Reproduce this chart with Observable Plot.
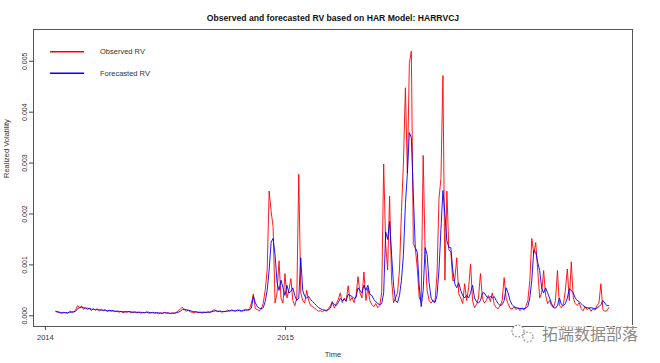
<!DOCTYPE html>
<html><head><meta charset="utf-8">
<script src="https://cdn.jsdelivr.net/npm/d3@7"></script>
<script src="https://cdn.jsdelivr.net/npm/@observablehq/plot@0.6"></script>
<style>
body{margin:0;background:#fff;}
#chart{position:relative;width:660px;height:363px;}
</style>
</head><body><div id="chart"></div>
<script>
// ---- data (RV values in units of 1e-4) ----
const title = "Observed and forecasted RV based on HAR Model: HARRVCJ";
const seriesNames = ["Observed RV", "Forecasted RV"];
const seriesColors = ["#ff0000", "#0000ff"];
const yLabel = "Realized Volatility";
const xLabel = "Time";
const xTickLabels = ["2014", "2015"];
const yTicks = [0, 10, 20, 30, 40, 50];
const startDate = "2014-01-17";
const stepDays = 3;
const watermark = "拓端数据部落";

const observed = [
0.8,0.7,0.6,0.5,0.7,0.6,0.5,0.9,0.8,0.7,
1.2,2.0,1.6,1.9,1.3,1.6,1.2,1.5,1.0,1.4,
1.1,1.4,0.9,1.3,1.0,1.2,0.8,1.1,0.9,1.0,
0.8,0.9,0.7,0.9,0.6,0.8,0.7,0.9,0.6,0.7,
0.8,0.6,0.7,0.5,0.7,0.6,0.8,0.5,0.6,0.7,
0.5,0.6,0.4,0.6,0.5,0.7,0.5,0.6,0.4,0.6,
0.5,0.7,1.0,1.3,1.7,1.2,0.9,1.1,0.8,0.7,
0.6,0.8,0.6,0.7,0.5,0.7,0.6,0.8,0.7,0.9,
1.2,1.0,0.8,0.9,0.7,0.9,0.8,1.1,0.9,1.2,
1.0,0.9,1.2,1.0,0.8,1.1,1.3,1.0,1.2,2.5,
4.3,1.4,1.2,1.0,1.3,2.5,5.0,9.0,24.5,20.5,
17.5,2.5,4.5,10.8,3.5,2.5,8.3,3.5,5.0,7.3,
3.0,2.0,3.5,27.8,4.5,3.0,2.5,5.0,3.0,2.0,
1.8,1.5,1.2,0.9,1.0,0.8,1.1,0.9,1.4,2.0,
2.8,1.5,2.4,3.2,4.5,2.6,3.5,2.8,5.9,3.0,
3.6,2.6,4.0,7.7,4.5,3.5,8.6,3.0,5.5,3.0,
2.2,1.8,2.4,1.6,2.0,4.5,29.8,14.0,9.0,23.5,
7.0,2.6,3.5,4.5,9.0,20.5,30.0,44.8,28.0,49.6,
52.0,14.2,13.3,9.4,3.5,2.8,31.5,12.0,5.0,3.0,
2.5,3.0,2.8,8.0,23.0,27.0,47.2,7.0,24.5,13.0,
12.5,6.9,7.0,11.4,4.3,3.5,2.4,6.3,3.0,5.5,
10.2,3.0,1.6,2.2,3.5,8.3,3.5,2.5,3.0,4.0,
2.8,4.5,2.2,1.6,1.4,2.0,3.0,7.5,3.5,2.4,
1.5,1.3,1.8,1.2,1.6,1.0,1.5,1.1,1.8,3.0,
6.9,15.2,12.2,14.4,9.0,3.5,4.5,8.9,4.0,2.4,
3.0,2.0,1.6,3.0,8.9,2.0,1.6,2.2,5.0,9.2,
3.0,10.6,3.5,2.4,2.0,2.6,1.4,1.0,1.8,1.2,
1.6,0.9,1.4,1.1,2.0,2.5,6.3,1.2,0.9,1.0,1.6
];

const forecast = [
0.9,0.8,0.7,0.6,0.6,0.6,0.6,0.7,0.7,0.8,
0.9,1.4,1.6,1.7,1.6,1.5,1.5,1.4,1.3,1.3,
1.2,1.2,1.2,1.1,1.1,1.1,1.0,1.0,1.0,1.0,
0.9,0.9,0.9,0.8,0.8,0.8,0.8,0.8,0.8,0.7,
0.7,0.7,0.7,0.7,0.6,0.6,0.7,0.7,0.6,0.6,
0.6,0.6,0.6,0.5,0.5,0.6,0.6,0.5,0.5,0.5,
0.5,0.6,0.7,0.9,1.2,1.3,1.2,1.1,1.0,0.9,
0.8,0.8,0.7,0.7,0.7,0.7,0.7,0.7,0.7,0.8,
0.9,1.0,0.9,0.9,0.9,0.8,0.9,0.9,1.0,1.0,
1.0,1.0,1.0,1.1,1.0,1.0,1.1,1.2,1.2,1.5,
3.8,2.6,1.8,1.5,1.4,1.6,2.8,5.0,9.0,14.5,
15.2,12.0,6.5,5.0,7.0,5.5,4.0,6.0,4.5,4.8,
5.5,4.0,3.0,3.5,11.4,5.0,3.8,3.5,3.8,3.2,
2.8,2.4,2.0,1.6,1.4,1.2,1.1,1.1,1.2,1.5,
2.6,2.2,2.0,2.6,3.4,3.0,3.2,3.0,4.2,4.0,
3.8,3.4,3.6,5.5,5.0,4.5,6.0,5.0,6.0,4.2,
4.0,3.2,2.8,2.4,2.2,2.4,4.5,16.5,15.0,18.5,
12.0,6.0,3.0,2.6,4.0,7.0,12.0,22.0,28.0,36.0,
35.0,24.0,13.4,12.5,6.0,1.8,5.0,13.4,12.0,6.5,
3.5,2.8,2.6,4.0,9.0,17.0,24.6,20.0,14.8,13.4,
13.4,9.0,6.3,5.5,6.5,5.0,4.0,3.5,4.0,3.5,
4.5,6.0,3.5,2.8,2.5,3.0,4.5,4.5,3.8,3.5,
3.8,3.5,3.8,3.0,2.4,2.0,2.2,3.0,5.5,4.5,
3.0,2.2,1.8,1.6,1.5,1.4,1.5,1.4,1.5,1.8,
3.5,7.0,12.8,12.5,10.5,8.9,5.5,4.5,5.5,4.5,
3.5,2.4,1.6,1.5,2.0,3.5,2.2,2.0,2.4,3.5,
5.3,5.0,4.5,3.5,3.0,2.8,2.4,2.0,1.7,1.6,
1.5,1.6,1.5,1.4,1.5,1.8,2.2,3.0,2.5,2.0,2.0
];

// ---- build tables ----
const t0 = new Date(startDate + "T00:00:00Z");
const dates = observed.map((_, i) => d3.utcDay.offset(t0, i * stepDays));
const obsData = observed.map((v, i) => ({date: dates[i], value: v}));
const fcData = forecast.map((v, i) => ({date: dates[i], value: v}));
const xTicks = xTickLabels.map(y => new Date(`${y}-01-01T00:00:00Z`));

const font = "'Liberation Sans', Arial, sans-serif";

const chart = Plot.plot({
  width: 660,
  height: 363,
  marginTop: 29,
  marginBottom: 37,
  marginLeft: 33,
  marginRight: 28,
  style: {fontFamily: font, background: "#fff", color: "#333", overflow: "visible"},
  x: {type: "utc", domain: [new Date("2013-12-14T00:00:00Z"), new Date("2016-06-11T00:00:00Z")]},
  y: {domain: [-2.1, 56.24]},
  marks: [
    Plot.axisX(xTicks, {tickSize: 4, tickPadding: 4, fontSize: 7.5, tickFormat: d3.utcFormat("%Y"), label: null, stroke: "#444"}),
    Plot.axisY(yTicks, {tickSize: 4, tickPadding: 3, fontSize: 7, tickRotate: -90, textAnchor: "middle", lineAnchor: "bottom",
      tickFormat: d => (d / 1e4).toFixed(3), label: null, stroke: "#444"}),
    Plot.line(obsData, {x: "date", y: "value", stroke: seriesColors[0], strokeWidth: 0.9}),
    Plot.line(fcData, {x: "date", y: "value", stroke: seriesColors[1], strokeWidth: 0.9}),
    Plot.frame({stroke: "#555"}),
    Plot.text([title], {frameAnchor: "top", dy: -15, fontWeight: "bold", fontSize: 8.6, fill: "#111"}),
    Plot.text([yLabel], {frameAnchor: "left", dx: -27, rotate: -90, fontSize: 7.5, fill: "#333"}),
    Plot.text([xLabel], {frameAnchor: "bottom", dy: 30, fontSize: 7.5, fill: "#333"})
  ]
});

document.getElementById("chart").appendChild(chart);

// ---- legend (decoration, drawn over the frame) ----
const svg = d3.select(chart);
const lg = svg.append("g").attr("font-family", font).attr("font-size", 7.5).attr("text-anchor", "start");
seriesNames.forEach((name, k) => {
  const yy = 51.7 + k * 21.6;
  lg.append("line").attr("x1", 50).attr("x2", 84).attr("y1", yy).attr("y2", yy)
    .attr("stroke", seriesColors[k]).attr("stroke-width", 1.5);
  lg.append("text").attr("x", 100).attr("y", yy).attr("dy", "0.35em").attr("fill", "#333").text(name);
});

// ---- watermark ----
const wm = svg.append("g").attr("text-anchor", "start");
wm.append("circle").attr("cx", 518).attr("cy", 331).attr("r", 6).attr("fill", "#fff")
  .attr("stroke", "#999").attr("stroke-width", 1.2).attr("stroke-dasharray", "2,1.5");
wm.append("circle").attr("cx", 528).attr("cy", 337).attr("r", 5).attr("fill", "#fff")
  .attr("stroke", "#999").attr("stroke-width", 1.2).attr("stroke-dasharray", "2,1.5");
wm.append("text").attr("x", 542).attr("y", 334).attr("dy", "0.35em")
  .attr("font-family", "'Noto Sans CJK SC', sans-serif").attr("font-size", 16)
  .attr("fill", "#8a8a8a").attr("stroke", "#fff").attr("stroke-width", 2)
  .attr("paint-order", "stroke").text(watermark);
</script>
</body></html>
